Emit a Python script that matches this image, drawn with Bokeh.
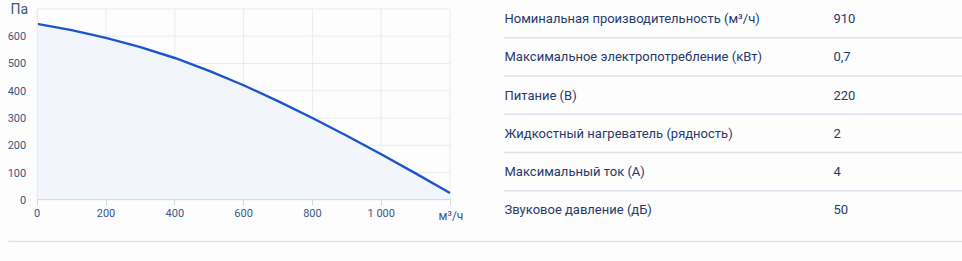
from bokeh.plotting import figure
from bokeh.layouts import column, row
from bokeh.models import Range1d, FixedTicker, Label, ColumnDataSource
from bokeh.core.properties import value
from bokeh.embed import file_html
from bokeh.resources import INLINE

# ---- data ----
flow = [0, 100, 200, 300, 400, 500, 600, 700, 800, 900, 1000, 1100, 1200]
pressure = [645, 622, 594, 560, 520, 473, 420, 362, 300, 235, 167, 97, 25]
x_ticks = [0, 200, 400, 600, 800, 1000, 1200]
x_tick_labels = ["0", "200", "400", "600", "800", "1 000", ""]
x_unit = "м³/ч"
y_ticks = [0, 100, 200, 300, 400, 500, 600, 700]
y_unit = "Па"

param_names = [
    "Номинальная производительность (м³/ч)",
    "Максимальное электропотребление (кВт)",
    "Питание (В)",
    "Жидкостный нагреватель (рядность)",
    "Максимальный ток (А)",
    "Звуковое давление (дБ)",
]
param_values = ["910", "0,7", "220", "2", "4", "50"]

# ---- styles ----
BG = "#fdfdfe"
GRID = "#e8eaee"
AXIS = "#d3d9e3"
LABEL = "#3b5686"
TEXT = "#27396a"
SEP = "#dde3ec"
LINE = "#1b56c9"
FILL = "#f2f5fb"
FONT = "Roboto"

# ---- chart layout (pixels) ----
W, H = 490, 235
PX_LEFT, PX_RIGHT = 36.7, 449.5      # screen x of x-range ends
PX_TOP, PX_BOTTOM = 8.4, 199.3       # screen y of y-range ends
XMAX, YMAX = x_ticks[-1], y_ticks[-1]
sx = (PX_RIGHT - PX_LEFT) / XMAX
sy = (PX_BOTTOM - PX_TOP) / YMAX
xr = Range1d(-PX_LEFT / sx, XMAX + (W - PX_RIGHT) / sx)
yr = Range1d(-(H - PX_BOTTOM) / sy, YMAX + PX_TOP / sy)

p = figure(width=W, height=H, x_range=xr, y_range=yr,
           output_backend="svg", toolbar_location=None, min_border=0)
p.background_fill_color = BG
p.border_fill_color = BG
p.outline_line_color = None
p.grid.visible = False

# grid lines restricted to the chart area
p.segment(x0=x_ticks, x1=x_ticks, y0=[0] * len(x_ticks), y1=[YMAX] * len(x_ticks),
          line_color=GRID, line_width=1)
p.segment(x0=[0] * len(y_ticks), x1=[XMAX] * len(y_ticks), y0=y_ticks, y1=y_ticks,
          line_color=GRID, line_width=1)

src = ColumnDataSource(dict(x=flow, y=pressure, y0=[0] * len(flow)))
p.varea(x="x", y1="y0", y2="y", source=src, fill_color=FILL)
p.line(x="x", y="y", source=src, line_color=LINE, line_width=2.4)

xa, ya = p.xaxis[0], p.yaxis[0]
xa.fixed_location = 0
ya.fixed_location = 0
xa.bounds = (0, XMAX)
ya.bounds = (0, YMAX)
xa.ticker = FixedTicker(ticks=x_ticks)
xa.major_label_overrides = {t: l for t, l in zip(x_ticks, x_tick_labels)}
ya.ticker = FixedTicker(ticks=y_ticks)
ya.major_label_overrides = {YMAX: ""}
for ax in (xa, ya):
    ax.axis_line_color = AXIS
    ax.major_tick_line_color = AXIS
    ax.minor_tick_line_color = None
    ax.major_label_text_font = FONT
    ax.major_label_text_font_size = "11px"
    ax.major_label_text_color = LABEL
    ax.major_tick_in = 0
xa.major_tick_out = 6
xa.major_label_standoff = 1
ya.major_tick_out = 0
ya.major_label_standoff = 11
ya.axis_line_color = GRID

p.add_layout(Label(x=0, y=YMAX, text=y_unit, x_offset=-9, text_align="right",
                   text_baseline="middle", text_font=FONT, text_font_size="14px",
                   text_color=LABEL))
p.add_layout(Label(x=XMAX, y=0, text=x_unit, x_offset=1, y_offset=-9, text_align="center",
                   text_baseline="top", text_font=FONT, text_font_size="12px",
                   text_color=LABEL))

# ---- table ----
TW = 962 - W
t = figure(width=TW, height=H, x_range=Range1d(0, TW), y_range=Range1d(H, 0),
           output_backend="svg", toolbar_location=None, min_border=0)
t.axis.visible = False
t.grid.visible = False
t.outline_line_color = None
t.background_fill_color = BG
t.border_fill_color = BG

row_y = [18 + i * 38.25 for i in range(len(param_names))]
tsrc = ColumnDataSource(dict(n=param_names, v=param_values, y=row_y,
                             xl=[14] * len(row_y), xv=[343] * len(row_y)))
t.text(x="xl", y="y", text="n", source=tsrc, text_baseline="middle",
       text_font=value(FONT), text_font_size="13px", text_color=TEXT)
t.text(x="xv", y="y", text="v", source=tsrc, text_baseline="middle",
       text_font=value(FONT), text_font_size="13px", text_color=TEXT)
sep_y = [(row_y[i] + row_y[i + 1]) / 2 for i in range(len(row_y) - 1)]
t.segment(x0=[13] * len(sep_y), x1=[TW] * len(sep_y), y0=sep_y, y1=sep_y,
          line_color=SEP, line_width=1.5)

# ---- bottom rule ----
RH = 261 - H
r = figure(width=962, height=RH, x_range=Range1d(0, 962), y_range=Range1d(RH, 0),
           output_backend="svg", toolbar_location=None, min_border=0)
r.axis.visible = False
r.grid.visible = False
r.outline_line_color = None
r.background_fill_color = BG
r.border_fill_color = BG
r.segment(x0=[8], x1=[962], y0=[6], y1=[6], line_color=SEP, line_width=1.5)

layout = column(row(p, t), r)
open("out.html", "w").write(file_html(layout, INLINE))
